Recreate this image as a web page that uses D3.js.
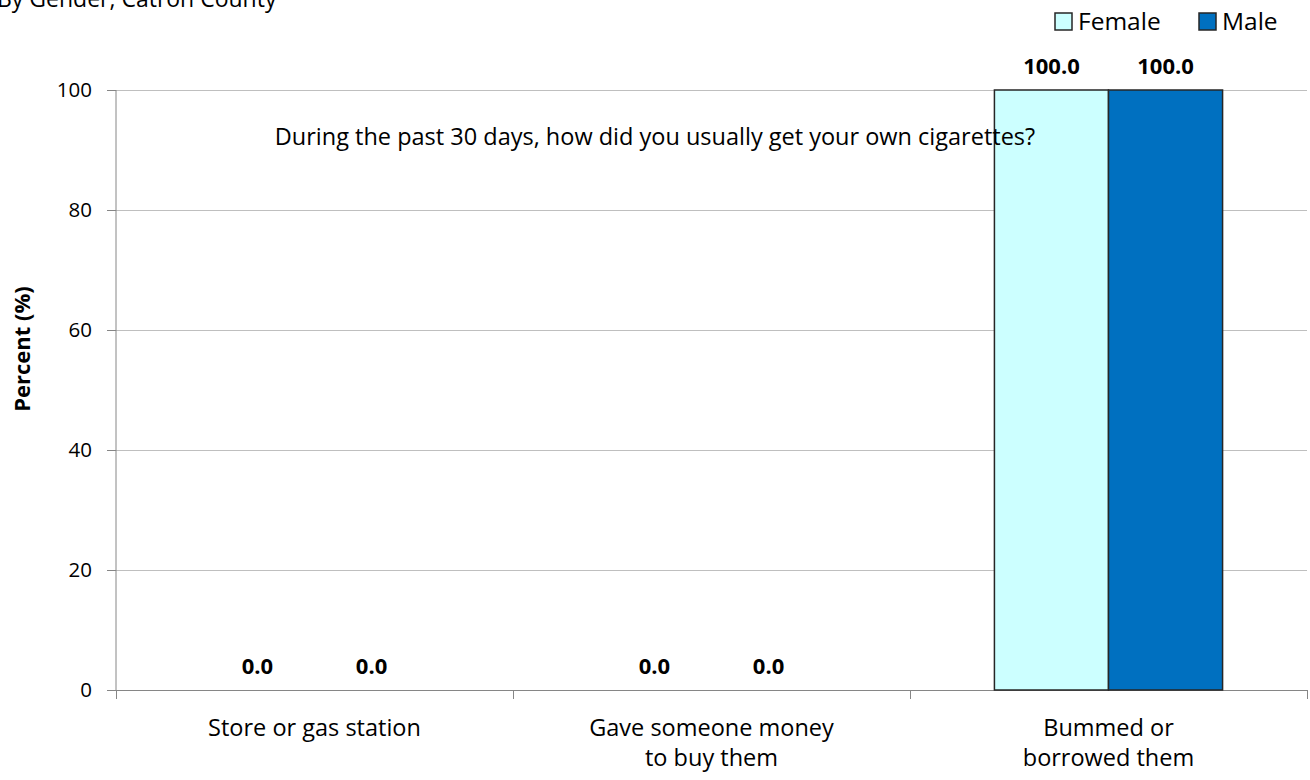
<!DOCTYPE html>
<html>
<head>
<meta charset="utf-8">
<script src="https://cdn.jsdelivr.net/npm/d3@7"></script>
<style>
  html, body { margin: 0; padding: 0; background: #fff; }
  svg { display: block; font-family: "Open Sans", sans-serif; }
</style>
</head>
<body>
<svg id="chart" width="1310" height="780"></svg>
<script>
const categories = [["Store or gas station"], ["Gave someone money", "to buy them"], ["Bummed or", "borrowed them"]];
const seriesNames = ["Female", "Male"];
const femaleValues = [0.0, 0.0, 100.0];
const maleValues = [0.0, 0.0, 100.0];
const yTicks = [0, 20, 40, 60, 80, 100];
const colors = ["#ccffff", "#0070c0"];
const chartTitle = "During the past 30 days, how did you usually get your own cigarettes?";
const subTitle = "By Gender, Catron County";
const yLabel = "Percent (%)";

const svg = d3.select("#chart");
const m = { left: 116, right: 1307, top: 90, bottom: 690 };

const x0 = d3.scaleBand().domain(d3.range(categories.length)).range([m.left, m.right]).paddingInner(0).paddingOuter(0);
const x1 = d3.scaleBand().domain(seriesNames).range([0, x0.bandwidth()]).paddingInner(0).paddingOuter(0.74);
const y = d3.scaleLinear().domain([0, 100]).range([m.bottom, m.top]);

// gridlines
svg.append("g").selectAll("line").data(yTicks.filter(d => d > 0)).join("line")
  .attr("x1", m.left).attr("x2", m.right)
  .attr("y1", d => y(d)).attr("y2", d => y(d))
  .attr("stroke", "#bfbfbf").attr("stroke-width", 1).attr("shape-rendering", "crispEdges");

// y axis
const yAxis = svg.append("g").attr("transform", `translate(${m.left},0)`)
  .call(d3.axisLeft(y).tickValues(yTicks).tickSize(9).tickPadding(15));
yAxis.select(".domain").attr("stroke", "#868686").attr("d", `M0,${m.bottom}V${m.top}`);
yAxis.selectAll(".tick line").attr("stroke", "#868686");
yAxis.selectAll(".tick text").attr("font-size", 20.5).attr("fill", "#000").attr("font-family", "'Open Sans', sans-serif");

// x axis
const xAxisG = svg.append("g").attr("transform", `translate(0,${m.bottom})`);
xAxisG.append("line").attr("x1", m.left).attr("x2", m.right).attr("y1", 0).attr("y2", 0)
  .attr("stroke", "#868686").attr("shape-rendering", "crispEdges");
const sepPos = d3.range(categories.length + 1).map(i => i < categories.length ? x0(i) : m.right);
xAxisG.selectAll("line.sep").data(sepPos).join("line").attr("class", "sep")
  .attr("x1", d => d).attr("x2", d => d).attr("y1", 0).attr("y2", 9)
  .attr("stroke", "#868686").attr("shape-rendering", "crispEdges");
categories.forEach((lines, i) => {
  const t = xAxisG.append("text").attr("text-anchor", "middle").attr("font-size", 23.5).attr("fill", "#000")
    .attr("x", x0(i) + x0.bandwidth() / 2);
  lines.forEach((ln, j) => {
    t.append("tspan").attr("x", x0(i) + x0.bandwidth() / 2).attr("y", 46 + j * 30).text(ln);
  });
});

// bars
const data = categories.map((c, i) => seriesNames.map((s, k) => ({ cat: i, s, k, v: k === 0 ? femaleValues[i] : maleValues[i] })));
const groups = svg.append("g").selectAll("g").data(data).join("g")
  .attr("transform", (d, i) => `translate(${x0(i)},0)`);
groups.selectAll("rect").data(d => d).join("rect")
  .attr("x", d => x1(d.s)).attr("width", x1.bandwidth())
  .attr("y", d => y(d.v)).attr("height", d => y(0) - y(d.v))
  .attr("fill", d => colors[d.k])
  .attr("stroke", d => d.v > 0 ? "#262626" : "none").attr("stroke-width", 1.5);
groups.selectAll("text").data(d => d).join("text")
  .attr("x", d => x1(d.s) + x1.bandwidth() / 2)
  .attr("y", d => y(d.v) - 16)
  .attr("text-anchor", "middle").attr("font-size", 22).attr("font-weight", "bold").attr("fill", "#000")
  .text(d => d3.format(".1f")(d.v));

// y label
svg.append("text").attr("transform", `translate(30,349) rotate(-90)`)
  .attr("text-anchor", "middle").attr("font-size", 22).attr("font-weight", "bold").attr("fill", "#000").text(yLabel);

// chart title
svg.append("text").attr("x", 655).attr("y", 145).attr("text-anchor", "middle").attr("font-size", 23.5).attr("fill", "#000").text(chartTitle);

// subtitle
svg.append("text").attr("x", -3).attr("y", 7).attr("font-size", 23).attr("fill", "#000").text(subTitle);

// legend
const legendX = [1055, 1199];
const leg = svg.append("g");
seriesNames.forEach((s, k) => {
  leg.append("rect").attr("x", legendX[k]).attr("y", 13).attr("width", 17).attr("height", 17)
    .attr("fill", colors[k]).attr("stroke", "#262626").attr("stroke-width", 1.5);
  leg.append("text").attr("x", legendX[k] + 23).attr("y", 30).attr("font-size", 24.5).attr("fill", "#000").text(s);
});
</script>
</body>
</html>
